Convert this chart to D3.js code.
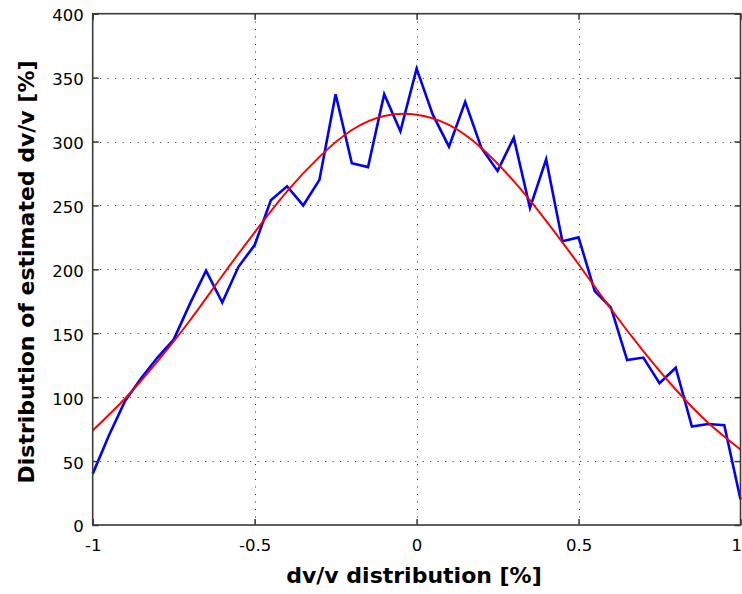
<!DOCTYPE html>
<html>
<head>
<meta charset="utf-8">
<script src="https://cdn.jsdelivr.net/npm/d3@7"></script>
<style>
  body { margin: 0; background: #fff; }
  svg { display: block; }
</style>
</head>
<body>
<svg></svg>
<script>
// blue: measured distribution, step 0.05
const xMeasured = [-1, -0.95, -0.9, -0.85, -0.8, -0.75, -0.7, -0.65, -0.6, -0.55, -0.5,
  -0.45, -0.4, -0.35, -0.3, -0.25, -0.2, -0.15, -0.1, -0.05, 0,
  0.05, 0.1, 0.15, 0.2, 0.25, 0.3, 0.35, 0.4, 0.45, 0.5,
  0.55, 0.6, 0.65, 0.7, 0.75, 0.8, 0.85, 0.9, 0.95, 1];
const yMeasured = [40, 70, 97, 115, 131, 145, 173, 199, 174, 202, 219,
  254, 265, 250, 270, 337, 283, 280, 337, 308, 357,
  321, 296, 331, 295, 277, 303, 248, 286, 222, 225,
  183, 170, 129, 131, 111, 123, 77, 79, 78, 20];

// red: fitted curve, read every 0.1
const xFit = [-1, -0.9, -0.8, -0.7, -0.6, -0.5, -0.4, -0.3, -0.2, -0.1, 0,
  0.1, 0.2, 0.3, 0.4, 0.5, 0.6, 0.7, 0.8, 0.9, 1];
const yFit = [74, 99, 128, 160, 195, 229, 261, 288, 309, 320, 321,
  313, 295, 269, 238, 204, 169, 136, 106, 80, 59];

const xTicks = [-1, -0.5, 0, 0.5, 1];
const xTickLabels = ["-1", "-0.5", "0", "0.5", "1"];
const yTicks = [0, 50, 100, 150, 200, 250, 300, 350, 400];
const yTickLabels = ["0", "50", "100", "150", "200", "250", "300", "350", "400"];

const W = 742, H = 594;
const plotLeft = 92.7, plotRight = 740.5, plotTop = 13.7, plotBottom = 525;

const svg = d3.select("svg").attr("width", W).attr("height", H);

const x = d3.scaleLinear().domain([-1, 1]).range([plotLeft, plotRight]);
const y = d3.scaleLinear().domain([0, 400]).range([plotBottom, plotTop]);

const tickFont = "'DejaVu Sans', sans-serif";

// dotted grid
const grid = svg.append("g").attr("stroke", "#222").attr("stroke-width", 1)
  .attr("stroke-dasharray", "1,6.5");
grid.selectAll(".gx")
  .data(xTicks.filter(d => d > -1 && d < 1))
  .enter().append("line")
  .attr("x1", d => Math.round(x(d)) + 0.5).attr("x2", d => Math.round(x(d)) + 0.5)
  .attr("y1", plotBottom).attr("y2", plotTop);
grid.selectAll(".gy")
  .data(yTicks.filter(d => d > 0 && d < 400))
  .enter().append("line")
  .attr("y1", d => Math.round(y(d)) + 0.5).attr("y2", d => Math.round(y(d)) + 0.5)
  .attr("x1", plotLeft).attr("x2", plotRight);

// lines
const blueLine = d3.line()
  .x((d, i) => x(xMeasured[i]))
  .y(d => y(d));
svg.append("path")
  .datum(yMeasured)
  .attr("d", blueLine)
  .attr("fill", "none")
  .attr("stroke", "#0000ff")
  .attr("stroke-width", 2.6)
  .attr("stroke-linejoin", "miter");

const redLine = d3.line()
  .x((d, i) => x(xFit[i]))
  .y(d => y(d))
  .curve(d3.curveNatural);
svg.append("path")
  .datum(yFit)
  .attr("d", redLine)
  .attr("fill", "none")
  .attr("stroke", "#ff0000")
  .attr("stroke-width", 2);

// axes with inward ticks, box on
function styleAxis(g) {
  g.select(".domain").remove();
  g.selectAll(".tick line").attr("stroke", "#333").attr("stroke-width", 1.5);
}

svg.append("g")
  .attr("transform", `translate(0,${plotBottom})`)
  .call(d3.axisBottom(x).tickValues(xTicks).tickSizeInner(-6).tickSizeOuter(0)
    .tickPadding(14).tickFormat((d, i) => xTickLabels[i]))
  .call(styleAxis)
  .call(g => g.selectAll("text").attr("font-family", tickFont).attr("font-size", 16.5)
    .attr("fill", "#000")
    // last label sits at the page edge: keep it inside
    .filter(d => d === 1).attr("text-anchor", "end").attr("x", 1));

svg.append("g")
  .attr("transform", `translate(0,${plotTop})`)
  .call(d3.axisTop(x).tickValues(xTicks).tickSizeInner(-6).tickSizeOuter(0).tickFormat(""))
  .call(styleAxis);

svg.append("g")
  .attr("transform", `translate(${plotLeft},0)`)
  .call(d3.axisLeft(y).tickValues(yTicks).tickSizeInner(-6).tickSizeOuter(0)
    .tickPadding(9).tickFormat((d, i) => yTickLabels[i]))
  .call(styleAxis)
  .call(g => g.selectAll("text").attr("font-family", tickFont).attr("font-size", 16.5)
    .attr("fill", "#000").attr("dy", "0.42em"));

svg.append("g")
  .attr("transform", `translate(${plotRight},0)`)
  .call(d3.axisRight(y).tickValues(yTicks).tickSizeInner(-6).tickSizeOuter(0).tickFormat(""))
  .call(styleAxis);

// box
svg.append("rect")
  .attr("x", plotLeft).attr("y", plotTop)
  .attr("width", plotRight - plotLeft).attr("height", plotBottom - plotTop)
  .attr("fill", "none").attr("stroke", "#3a3a3a").attr("stroke-width", 1.6);

// axis labels
svg.append("text")
  .attr("x", (283 + 545) / 2).attr("y", 583)
  .attr("text-anchor", "middle")
  .attr("font-family", "'DejaVu Sans', sans-serif").attr("font-weight", "bold")
  .attr("font-size", 22)
  .text("dv/v distribution [%]");

svg.append("text")
  .attr("transform", "translate(34,272) rotate(-90)")
  .attr("text-anchor", "middle")
  .attr("font-family", "'DejaVu Sans', sans-serif").attr("font-weight", "bold")
  .attr("font-size", 22)
  .text("Distribution of estimated dv/v [%]");
</script>
</body>
</html>
